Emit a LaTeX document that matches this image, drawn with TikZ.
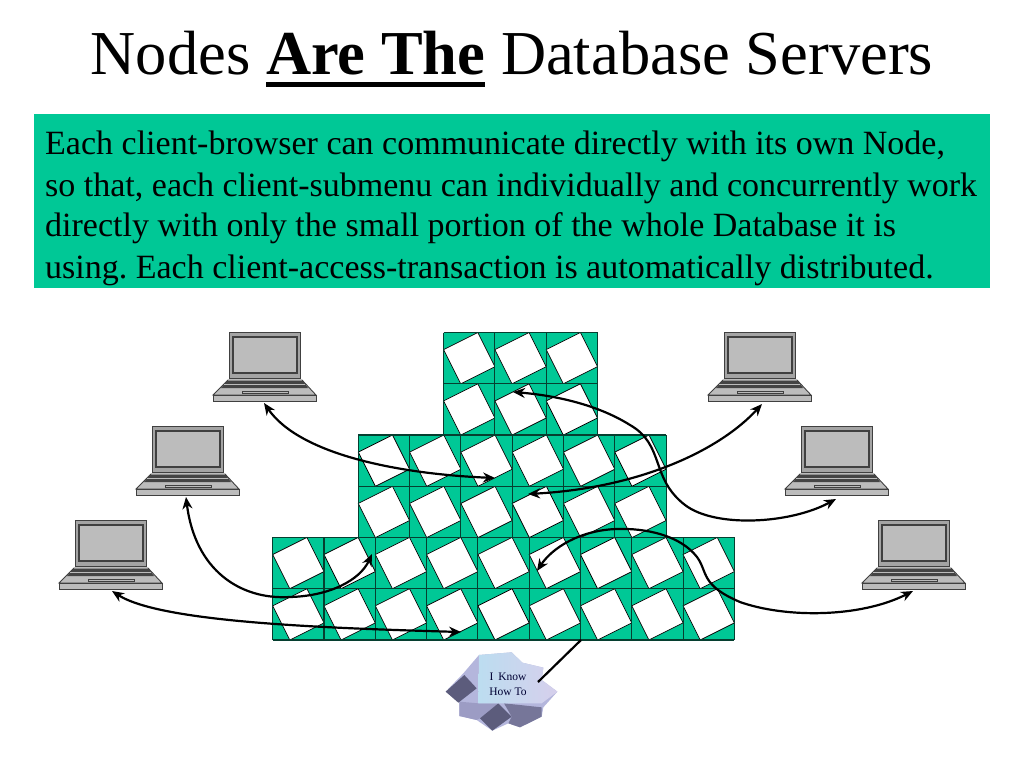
\documentclass[tikz,border=0pt]{standalone}
\usepackage{fontspec}
\setmainfont{Liberation Serif}
\usetikzlibrary{arrows.meta}
\definecolor{tealgreen}{HTML}{00C896}
\definecolor{gridline}{HTML}{063F30}
\definecolor{lapgray}{HTML}{BCBCBC}
\definecolor{lapframe}{HTML}{A4A4A4}
\definecolor{lapdark}{HTML}{444444}
\definecolor{cloudmid}{HTML}{9C9CC4}
\definecolor{cloudlight}{HTML}{B4B6DC}
\definecolor{clouddark}{HTML}{5C5C7C}
\definecolor{cloudfrontA}{HTML}{BCDDF0}
\definecolor{cloudfrontB}{HTML}{D6CFEC}
\newsavebox{\ulbox}
\newcommand{\thickul}[1]{\sbox{\ulbox}{#1}\rlap{\rule[-12.5pt]{\wd\ulbox}{5.5pt}}\usebox{\ulbox}}
\newcommand{\dbcell}[2]{%
  \fill[tealgreen] (#1,#2) rectangle ++(51.3,51.3);
  \draw[squareline] (#1+34.2,#2) -- (#1+51.3,#2+34.2) -- (#1+17.1,#2+51.3) -- (#1,#2+17.1) -- cycle;
}
\newcommand{\laptop}[2]{%
\begin{scope}[shift={(#1,#2)}]
  \draw[lapline,fill=lapframe] (16,0) rectangle (87,46);
  \draw[lapline,fill=lapgray,line width=1.4pt] (20,5) rectangle (84,41);
  \draw[lapline,fill=lapgray] (15,48) -- (89,48) -- (103,63) -- (0,63) -- cycle;
  \fill[lapdark] (14,49) -- (90,49) -- (95,56) -- (8,56) -- cycle;
  \draw[lapgray,line width=.7pt] (11,52.5) -- (92,52.5);
  \draw[lapline,line width=1pt] (29,59) rectangle (75,61);
  \draw[lapline,fill=lapgray] (0,63) rectangle (103,69);
\end{scope}}
\tikzset{
  x=1pt,y=-1pt,
  squareline/.style={draw=black,line width=.7pt,fill=white},
  lapline/.style={draw=black!75,line width=.9pt},
  gridstroke/.style={draw=gridline,line width=1.1pt},
  conn/.style={draw=black,line width=2.2pt,{Stealth[length=12pt,width=10pt]}-{Stealth[length=12pt,width=10pt]}},
  plain/.style={draw=black,line width=2.2pt},
  bodytext/.style={anchor=base west,inner sep=0pt,font=\fontsize{34}{38}\selectfont},
}
\begin{document}
\frenchspacing
\begin{tikzpicture}
\useasboundingbox (0,0) rectangle (1024,768);
\fill[white] (0,0) rectangle (1024,768);
\node[anchor=base,inner sep=0pt,font=\fontsize{62.5}{68}\selectfont] (title) at (512,74.5) {Nodes \textbf{\thickul{Are The}} Database Servers};
\node[fill=tealgreen,minimum width=956pt,minimum height=174pt,inner sep=0pt,anchor=north west] (panel) at (34,114) {};
\node[bodytext] (l1) at (45,154) {Each client-browser can communicate directly with its own Node,};
\node[bodytext] (l2) at (45,196) {so that, each client-submenu can individually and concurrently work};
\node[bodytext] (l3) at (45,236) {directly with only the small portion of the whole Database it is};
\node[bodytext] (l4) at (45,278) {using. Each client-access-transaction is automatically distributed.};
% database grid
\foreach \c in {0,...,8}{\foreach \r in {0,1}{\dbcell{272.7+51.3*\c}{537.4+51.3*\r}}}
\foreach \c in {0,...,5}{\foreach \r in {0,1}{\dbcell{358.3+51.3*\c}{435+51.3*\r}}}
\foreach \c in {0,1,2}{\foreach \r in {0,1}{\dbcell{443.6+51.3*\c}{332.5+51.3*\r}}}
\foreach \c in {0,...,9}{\draw[gridstroke] (272.7+51.3*\c,537.4) -- (272.7+51.3*\c,640);}
\foreach \r in {0,1,2}{\draw[gridstroke] (272.7,537.4+51.3*\r) -- (734.4,537.4+51.3*\r);}
\foreach \c in {0,...,6}{\draw[gridstroke] (358.3+51.3*\c,435) -- (358.3+51.3*\c,537.4);}
\foreach \r in {0,1}{\draw[gridstroke] (358.3,435+51.3*\r) -- (666.1,435+51.3*\r);}
\foreach \c in {0,...,3}{\draw[gridstroke] (443.6+51.3*\c,332.5) -- (443.6+51.3*\c,435);}
\foreach \r in {0,1}{\draw[gridstroke] (443.6,332.5+51.3*\r) -- (597.5,332.5+51.3*\r);}
% laptops
\laptop{213}{332}
\laptop{136}{426}
\laptop{59}{520}
\laptop{708}{332}
\laptop{785}{426}
\laptop{862}{520}
\coordinate (lapA) at (264,403);
\coordinate (lapB) at (186,497);
\coordinate (lapC) at (112,591);
\coordinate (lapD) at (762,404);
\coordinate (lapE) at (836,499);
\coordinate (lapF) at (913,591);
\coordinate (dbA) at (495,478);
\coordinate (dbB) at (372,554);
\coordinate (dbC) at (461,632);
\coordinate (dbD) at (528,494);
\coordinate (dbE) at (513,392);
\coordinate (dbF) at (537,571);
\coordinate (dbG) at (581,640);
% connectors
\draw[conn] (lapA) .. controls (300,455) and (400,474) .. (dbA);
\draw[conn] (lapB) .. controls (195,570) and (240,600) .. (290,597) .. controls (330,596) and (360,580) .. (dbB);
\draw[conn] (lapC) .. controls (160,622) and (320,628) .. (dbC);
\draw[conn] (lapD) .. controls (720,450) and (640,488) .. (dbD);
\draw[conn] (lapE) .. controls (790,524) and (715,528) .. (685,505) .. controls (650,478) and (665,445) .. (630,425) .. controls (595,403) and (550,395) .. (dbE);
\draw[conn] (lapF) .. controls (860,618) and (785,618) .. (740,602) .. controls (700,585) and (708,572) .. (697,557) .. controls (680,535) and (645,528) .. (617,529) .. controls (580,530) and (552,548) .. (dbF);
% knowledge cloud
\begin{scope}[shift={(430,620)},x=0.3333pt,y=-0.3333pt]
  \fill[cloudlight] (147,105) -- (245,97) -- (277,128) -- (340,143) -- (335,180) -- (382,215) -- (340,262) -- (335,290) -- (270,322) -- (235,310) -- (187,332) -- (140,300) -- (88,288) -- (88,245) -- (47,215) -- (100,160) -- cycle;
  \fill[cloudmid] (88,245) -- (145,250) -- (205,250) -- (150,295) -- (140,300) -- (88,288) -- cycle;
  \fill[clouddark] (47,215) -- (103,165) -- (140,205) -- (85,248) -- cycle;
  \fill[clouddark] (150,295) -- (205,250) -- (245,290) -- (187,332) -- cycle;
  \fill[clouddark!60!cloudmid] (235,310) -- (245,290) -- (222,250) -- (335,262) -- (335,290) -- (270,322) -- cycle;
  \shade[left color=cloudfrontA,right color=cloudfrontB] (147,105) -- (245,97) -- (277,128) -- (340,143) -- (335,180) -- (382,215) -- (335,250) -- (222,250) -- (145,250) -- cycle;
\end{scope}
\node[align=center,inner sep=0pt,text=black!80!blue,font=\fontsize{11.5}{14.5}\selectfont] (cloudtext) at (508,684.5) {I\, Know\\How To};
\coordinate (cloudEnd) at (538,682);
\draw[plain] (cloudEnd) -- (dbG);
\end{tikzpicture}
\end{document}
